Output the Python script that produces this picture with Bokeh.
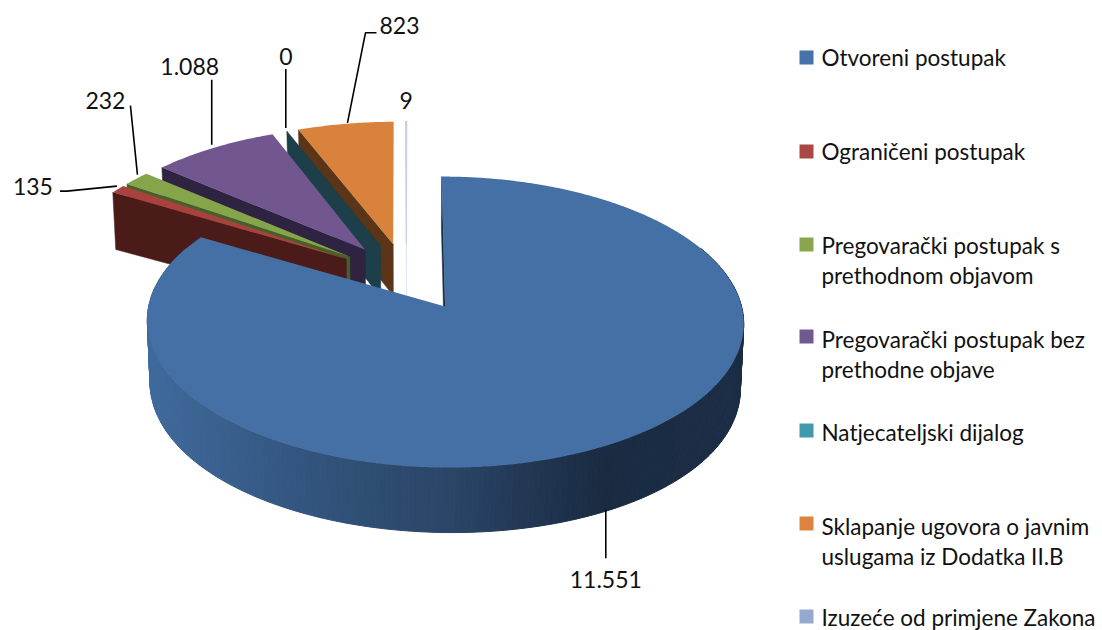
import math
from bokeh.plotting import figure
from bokeh.models import Range1d
from bokeh.core.properties import value
from bokeh.embed import file_html
from bokeh.resources import INLINE

# ---- data ----
categories = [
    ["Otvoreni postupak"],
    ["Ograničeni postupak"],
    ["Pregovarački postupak s", "prethodnom objavom"],
    ["Pregovarački postupak bez", "prethodne objave"],
    ["Natjecateljski dijalog"],
    ["Sklapanje ugovora o javnim", "uslugama iz Dodatka II.B"],
    ["Izuzeće od primjene Zakona"],
]
values = [11551, 135, 232, 1088, 0, 823, 9]
value_labels = ["11.551", "135", "232", "1.088", "0", "823", "9"]
top_colors = ["#4570A6", "#A9423F", "#86A44A", "#71568F", "#4198AF", "#D9823B", "#C5D1E4"]
legend_colors = ["#4572A7", "#AA4643", "#89A54E", "#71588F", "#4198AF", "#DB843D", "#93A9CF"]
wall_colors = ["#1B2D45", "#4A1B18", "#46602A", "#2E2340", "#1C3F49", "#5A3518", "#D3DCEA"]
# blue outer-wall shade stops
side_stops = [(147, "#3F6A9C"), (300, "#33557E"), (450, "#2A4566"), (600, "#1A2B42"), (745, "#1B2D45")]
legend_y = [[57], [151], [245, 275], [339, 369], [432], [526, 556], [617]]
legend_sq_y = [57, 151, 244, 336, 430, 523, 616]
# small shift of each leader's anchor on the rim
anchor_adj = [(-3, -1), (-1, -3), (1, -4), (-2, -3), (-1, -3), (2, -1), (2, 0)]
# label offset from the leader's rim anchor, and leader path offsets
label_off = [(0, 70), (-84, 0), (-32, -74), (-22, -78), (0, -72), (52, -97), (-2, -21)]
leader_start = [(0, 49), (-57, 5), (-7, -69), (0, -65), (0, -59), (29, -90), None]
leader_elbow = [None, (-50, 5), None, None, None, (18, -90), None]

# ---- layout ----
W, H = 1102, 630
X0, Y0, RX, RY, K = 409.0, 276.5, 290.0, 137.6, 0.104
EXPL = 0.242
BACK_EXPL, BACK_DX = 1.03, -3.0  # the small slices at the back
BACK_RX, BACK_RY = 1.012, 1.033
DEPTH, KD, DU = 53.5, 0.146, 7.0


def proj(u, v, z=0.0):
    x = X0 + RX * u / (1 + K * v)
    y = Y0 - RY * v / (1 + K * v)
    if z:
        d = DEPTH / (1 + KD * v) + DU * u * u
        x = X0 + (x - X0) * 0.99
        y = y + d
    return x, y


def hex2rgb(c):
    return tuple(int(c[i:i + 2], 16) for i in (1, 3, 5))


def shade(x):
    for (a, ca), (b, cb) in zip(side_stops, side_stops[1:]):
        if x <= b:
            t = max(0.0, (x - a) / (b - a))
            ra, rb = hex2rgb(ca), hex2rgb(cb)
            return "#%02x%02x%02x" % tuple(round(p + (q - p) * t) for p, q in zip(ra, rb))
    return side_stops[-1][1]


total = sum(values)
starts, ends, a = [], [], 0.0
for val in values:
    starts.append(a)
    a += val / total * 360.0
    ends.append(a)

p = figure(width=W, height=H, x_range=Range1d(0, W), y_range=Range1d(H, 0),
           toolbar_location=None, output_backend="svg", min_border=0,
           background_fill_color="white", border_fill_color="white")
p.axis.visible = False
p.grid.visible = False
p.outline_line_color = None


def offsets(i):
    m = math.radians((starts[i] + ends[i]) / 2)
    f = EXPL if i == 0 else EXPL * BACK_EXPL
    du = 0.0 if i == 0 else BACK_DX / RX
    return f * math.sin(m) + du, f * math.cos(m)


def rim(i, deg, z=0.0):
    ou, ov = offsets(i)
    t = math.radians(deg)
    rx = 1.0 if i == 0 else BACK_RX
    ry = 1.0 if i == 0 else BACK_RY
    return proj(ou + rx * math.sin(t), ov + ry * math.cos(t), z)


# paint from the back slice to the front one
for i in reversed(range(len(values))):
    ou, ov = offsets(i)
    s, e = starts[i], ends[i]
    # cut wall at the slice start
    A = proj(ou, ov)
    Ab = proj(ou, ov, 1)
    Bt = rim(i, s)
    Bb = rim(i, s, 1)
    p.patch([A[0], Bt[0], Bb[0], Ab[0]], [A[1], Bt[1], Bb[1], Ab[1]],
            fill_color=wall_colors[i], line_color=wall_colors[i], line_width=0.5)
    # outer wall, front-facing part only
    lo, hi = max(s, 65.0), min(e, 295.0)
    if hi > lo:
        n = int(hi - lo)
        xs, ys, cs = [], [], []
        for k in range(n):
            a0 = lo + (hi - lo) * k / n
            a1 = lo + (hi - lo) * (k + 1) / n
            t0, t1, b1, b0 = rim(i, a0), rim(i, a1), rim(i, a1, 1), rim(i, a0, 1)
            xs.append([t0[0], t1[0], b1[0], b0[0]])
            ys.append([t0[1], t1[1], b1[1], b0[1]])
            cs.append(shade((t0[0] + t1[0]) / 2))
        p.patches(xs, ys, fill_color=cs, line_color=cs, line_width=1)
    # top face (a slice of value 0 has none)
    if e > s:
        n = max(2, int((e - s) / 0.5))
        pts = [A] + [rim(i, s + (e - s) * k / n) for k in range(n + 1)]
        p.patch([q[0] for q in pts], [q[1] for q in pts], fill_color=top_colors[i],
                line_color=top_colors[i] if (e - s) < 1 else None, line_width=1.2 if (e - s) < 1 else 0)

# value labels and leader lines
FONT = value("Lato")
for i, lab in enumerate(value_labels):
    mid = (starts[i] + ends[i]) / 2
    anchor = rim(i, mid, 1 if i == 0 else 0)
    anchor = (anchor[0] + anchor_adj[i][0], anchor[1] + anchor_adj[i][1])
    p.text([anchor[0] + label_off[i][0]], [anchor[1] + label_off[i][1]], text=[lab],
           text_font=FONT, text_font_size="23px", text_color="#111111",
           text_align="center", text_baseline="middle")
    if leader_start[i] is not None:
        path = [anchor]
        if leader_elbow[i] is not None:
            path.append((anchor[0] + leader_elbow[i][0], anchor[1] + leader_elbow[i][1]))
        path.append((anchor[0] + leader_start[i][0], anchor[1] + leader_start[i][1]))
        p.line([q[0] for q in path], [q[1] for q in path], line_color="#000000", line_width=1.6)

# legend
for lines, ys, sy, c in zip(categories, legend_y, legend_sq_y, legend_colors):
    p.rect([806], [sy], width=14, height=14, fill_color=c, line_color=None)
    for line, y in zip(lines, ys):
        p.text([821], [y], text=[line], text_font=FONT, text_font_size="22.5px",
               text_color="#111111", text_align="left", text_baseline="middle")

open("out.html", "w").write(file_html(p, INLINE))
